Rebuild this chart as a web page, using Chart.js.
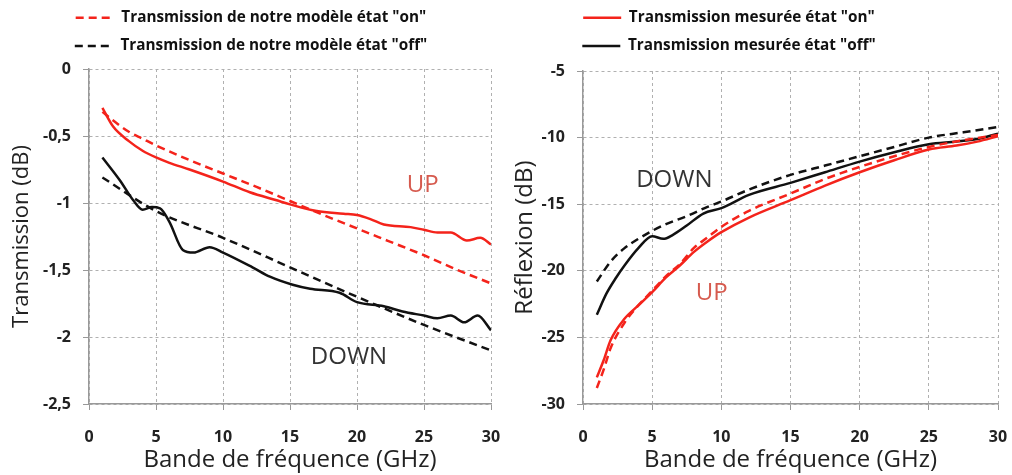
<!DOCTYPE html>
<html>
<head>
<meta charset="utf-8">
<script src="https://cdn.jsdelivr.net/npm/chart.js@4.4.1/dist/chart.umd.min.js"></script>
<style>
  body { margin: 0; background: #fff; overflow: hidden; }
  #wrap { position: relative; width: 1012px; height: 475px; overflow: hidden; }
  .box { position: absolute; top: -3px; height: 478px; }
</style>
</head>
<body>
<div id="wrap">
  <div class="box" style="left:11px;width:506px"><canvas id="chart-left"></canvas></div>
  <div class="box" style="left:460px;width:552px"><canvas id="chart-right"></canvas></div>
</div>
<script>
// legend texts
var labelModelOn = 'Transmission de notre modèle état "on"';
var labelModelOff = 'Transmission de notre modèle état "off"';
var labelMeasOn = 'Transmission mesurée état "on"';
var labelMeasOff = 'Transmission mesurée état "off"';

var freqTicks = [0, 5, 10, 15, 20, 25, 30];

// left chart : transmission (dB)
var transModelOnX = [1, 2, 3, 4, 5, 7.5, 10, 12.5, 15, 17.5, 20, 22.5, 25, 27.5, 30];
var transModelOn = [-0.32, -0.40, -0.47, -0.52, -0.57, -0.68, -0.78, -0.88, -0.985, -1.09, -1.19, -1.29, -1.39, -1.50, -1.60];
var transModelOffX = [1, 5, 10, 15, 20, 25, 30];
var transModelOff = [-0.81, -1.06, -1.26, -1.48, -1.70, -1.91, -2.10];
var transMeasOnX = [1, 1.8, 3, 4, 5, 6, 7.5, 10, 12, 14, 15, 17, 19, 20, 21, 22, 24, 25, 26, 27, 28.2, 29.2, 30];
var transMeasOn = [-0.29, -0.43, -0.54, -0.61, -0.66, -0.70, -0.75, -0.84, -0.92, -0.98, -1.01, -1.06, -1.08, -1.09, -1.12, -1.16, -1.18, -1.20, -1.22, -1.22, -1.28, -1.26, -1.31];
var transMeasOffX = [1, 2.3, 3.3, 4, 4.7, 5.3, 6, 7, 7.8, 9, 10, 12.2, 13.5, 15.2, 16.5, 18.7, 20, 22, 23.4, 25, 26, 27, 28, 29, 30];
var transMeasOff = [-0.66, -0.83, -0.98, -1.05, -1.03, -1.04, -1.14, -1.35, -1.37, -1.33, -1.37, -1.48, -1.55, -1.61, -1.64, -1.67, -1.74, -1.77, -1.81, -1.84, -1.86, -1.84, -1.89, -1.84, -1.95];

// right chart : reflexion (dB)
var reflModelOnX = [1, 1.5, 2, 3, 4, 5, 6, 7, 8, 9, 10, 12, 15, 17.5, 20, 22.5, 25, 27.5, 30];
var reflModelOn = [-28.8, -27.4, -25.8, -23.9, -22.6, -21.5, -20.4, -19.5, -18.3, -17.5, -16.7, -15.5, -14.2, -13.1, -12.2, -11.4, -10.7, -10.2, -9.8];
var reflModelOffX = [1, 2, 3, 4, 5, 6, 7.5, 9, 10, 12, 15, 17.5, 20, 22.5, 25, 27.5, 30];
var reflModelOff = [-20.8, -19.3, -18.3, -17.6, -17.0, -16.5, -15.9, -15.2, -14.8, -13.9, -12.8, -12.1, -11.4, -10.7, -10.0, -9.6, -9.2];
var reflMeasOnX = [1, 1.5, 2, 3, 4, 5, 6, 7, 8, 9, 10, 12, 15, 17.5, 20, 22.5, 25, 27, 28.5, 30];
var reflMeasOn = [-28.0, -26.7, -25.2, -23.6, -22.6, -21.6, -20.5, -19.6, -18.6, -17.8, -17.1, -16.0, -14.7, -13.6, -12.6, -11.7, -10.9, -10.6, -10.3, -9.9];
var reflMeasOffX = [1, 1.7, 2.4, 3, 4, 5, 5.8, 6.5, 7.5, 8.7, 10, 12, 15, 17.5, 20, 22.5, 25, 27, 28.5, 30];
var reflMeasOff = [-23.3, -21.7, -20.5, -19.6, -18.3, -17.4, -17.6, -17.3, -16.6, -15.7, -15.3, -14.3, -13.4, -12.6, -11.8, -11.1, -10.5, -10.3, -10.1, -9.7];

// text labels inside the plots
var leftZones = [
  { text: 'UP', x: 24.9, y: -0.87, color: '#d65a4e' },
  { text: 'DOWN', x: 19.4, y: -2.15, color: '#333333' }
];
var rightZones = [
  { text: 'DOWN', x: 6.6, y: -13.2, color: '#333333' },
  { text: 'UP', x: 9.3, y: -21.7, color: '#d65a4e' }
];

var RED = '#f4231b';
var BLACK = '#111111';
var FONT = '"Open Sans", sans-serif';

function pts(xs, ys) {
  return xs.map(function (x, i) { return { x: x, y: ys[i] }; });
}

function line(label, xs, ys, color, dashed) {
  return {
    label: label,
    data: pts(xs, ys),
    borderColor: color,
    backgroundColor: color,
    borderWidth: 2.5,
    borderDash: dashed ? [8, 5] : [],
    pointRadius: 0,
    tension: 0.4,
    cubicInterpolationMode: 'monotone',
    fill: false
  };
}

var zoneLabels = {
  id: 'zoneLabels',
  afterInit: function (chart, args, opts) {
    // fixed legend height so the plot top lands where it should
    var lg = chart.legend;
    if (lg && opts.legendHeight) {
      var fit = lg.fit;
      lg.fit = function () { fit.call(this); this.height = opts.legendHeight; };
    }
  },
  afterDatasetsDraw: function (chart, args, opts) {
    var ctx = chart.ctx;
    ctx.save();
    ctx.font = '24px ' + FONT;
    ctx.textAlign = 'center';
    ctx.textBaseline = 'middle';
    (opts.items || []).forEach(function (it) {
      ctx.fillStyle = it.color;
      ctx.fillText(it.text, chart.scales.x.getPixelForValue(it.x), chart.scales.y.getPixelForValue(it.y));
    });
    ctx.restore();
  }
};

function legendItems(chart) {
  var items = Chart.defaults.plugins.legend.labels.generateLabels(chart);
  items.forEach(function (item) {
    var ds = chart.data.datasets[item.datasetIndex];
    item.lineDash = ds.borderDash;
    item.lineWidth = ds.borderWidth;
    item.strokeStyle = ds.borderColor;
  });
  return items;
}

function makeConfig(datasets, legendSet, zones, yOpts, yTitle, yTitleSize, yTitlePad, legendHeight, padRight) {
  return {
    type: 'line',
    data: { datasets: datasets },
    plugins: [zoneLabels],
    options: {
      responsive: true,
      maintainAspectRatio: false,
      animation: false,
      layout: { padding: { left: 0, right: padRight, top: 0, bottom: 0 } },
      plugins: {
        tooltip: { enabled: false },
        zoneLabels: { items: zones, legendHeight: legendHeight },
        legend: {
          position: 'top',
          labels: {
            generateLabels: legendItems,
            filter: function (item) { return legendSet.indexOf(item.text) >= 0; },
            usePointStyle: true,
            pointStyle: 'line',
            pointStyleWidth: 38,
            boxHeight: 15,
            padding: 13,
            color: '#111',
            font: { family: FONT, size: 15.3, weight: 'bold' }
          }
        }
      },
      scales: {
        x: {
          type: 'linear',
          min: 0, max: 30,
          afterBuildTicks: function (s) { s.ticks = freqTicks.map(function (v) { return { value: v }; }); },
          afterFit: function (s) { s.height = 71; s.paddingLeft = 0; s.paddingRight = 0; },
          grid: { color: '#b0b0b0', tickLength: 6, tickBorderDash: [], tickColor: '#999' },
          border: { display: true, color: '#999', width: 1.5, dash: [3, 3] },
          ticks: { color: '#222', padding: 18, font: { family: FONT, size: 16, weight: 'bold' } },
          title: {
            display: true, text: 'Bande de fréquence (GHz)', color: '#222',
            padding: { top: 0, bottom: 0 },
            font: { family: FONT, size: 24 }
          }
        },
        y: {
          min: yOpts.min, max: yOpts.max,
          ticks: {
            stepSize: yOpts.step, color: '#222', padding: 12,
            font: { family: FONT, size: 16, weight: 'bold' },
            callback: function (v) { return String(v).replace('.', ','); }
          },
          afterFit: function (s) { s.width = yOpts.width; },
          grid: { color: '#b0b0b0', tickLength: 6, tickBorderDash: [], tickColor: '#999' },
          border: { display: true, color: '#999', width: 1.5, dash: [3, 3] },
          title: {
            display: true, text: yTitle, color: '#222',
            padding: { top: yTitlePad, bottom: 0 },
            font: { family: FONT, size: yTitleSize }
          }
        }
      }
    }
  };
}

function allSets(mOnX, mOn, mOffX, mOff, sOnX, sOn, sOffX, sOff) {
  return [
    line(labelModelOn, mOnX, mOn, RED, true),
    line(labelModelOff, mOffX, mOff, BLACK, true),
    line(labelMeasOn, sOnX, sOn, RED, false),
    line(labelMeasOff, sOffX, sOff, BLACK, false)
  ];
}

window.onload = function () {
  var leftCtx = document.getElementById('chart-left').getContext('2d');
  var rightCtx = document.getElementById('chart-right').getContext('2d');

  new Chart(leftCtx, makeConfig(
    allSets(transModelOnX, transModelOn, transModelOffX, transModelOff,
            transMeasOnX, transMeasOn, transMeasOffX, transMeasOff),
    [labelModelOn, labelModelOff], leftZones,
    { min: -2.5, max: 0, step: 0.5, width: 78 },
    'Transmission (dB)', 22, -2, 72, 26));

  new Chart(rightCtx, makeConfig(
    allSets(reflModelOnX, reflModelOn, reflModelOffX, reflModelOff,
            reflMeasOnX, reflMeasOn, reflMeasOffX, reflMeasOff),
    [labelMeasOn, labelMeasOff], rightZones,
    { min: -30, max: -5, step: 5, width: 123 },
    'Réflexion (dB)', 24, 51, 74, 14));
};
</script>
</body>
</html>
